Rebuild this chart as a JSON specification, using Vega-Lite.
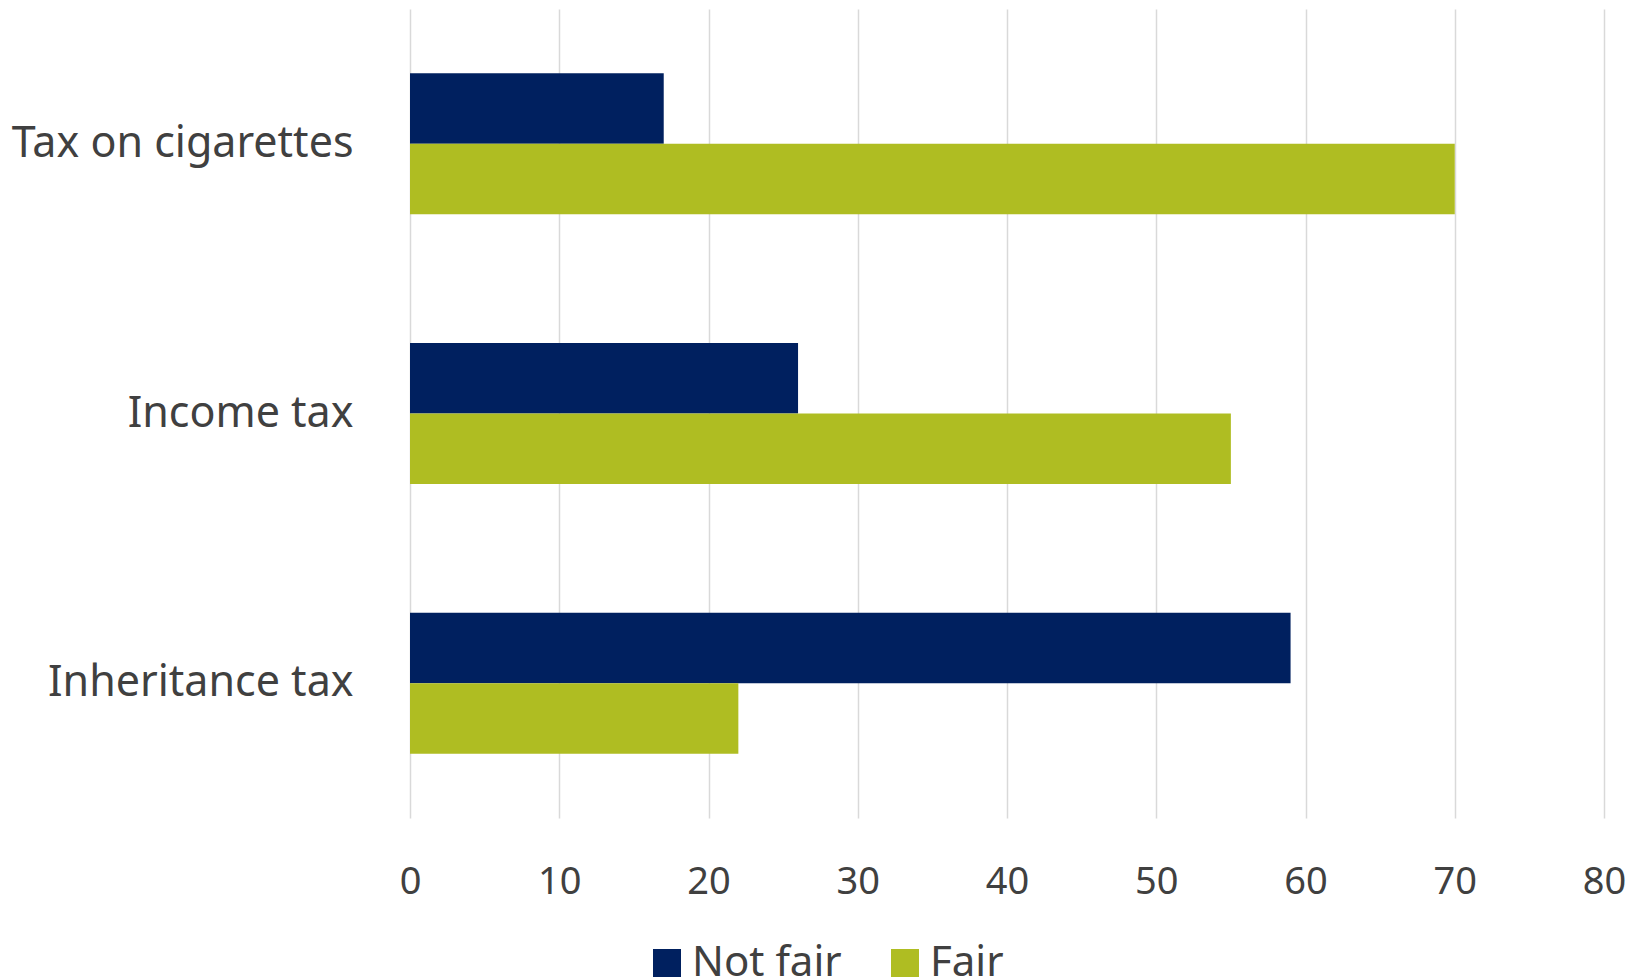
{
  "$schema": "https://vega.github.io/schema/vega-lite/v6.json",
  "width": 1194,
  "height": 809,
  "autosize": {"type": "none"},
  "padding": {"left": 410, "top": 9, "right": 41, "bottom": 162},
  "background": "white",
  "data": {
    "values": [
      {"tax": "Tax on cigarettes", "opinion": "Not fair", "value": 17},
      {"tax": "Tax on cigarettes", "opinion": "Fair", "value": 70},
      {"tax": "Income tax", "opinion": "Not fair", "value": 26},
      {"tax": "Income tax", "opinion": "Fair", "value": 55},
      {"tax": "Inheritance tax", "opinion": "Not fair", "value": 59},
      {"tax": "Inheritance tax", "opinion": "Fair", "value": 22}
    ]
  },
  "mark": {"type": "bar"},
  "encoding": {
    "y": {
      "field": "tax",
      "type": "nominal",
      "sort": ["Tax on cigarettes", "Income tax", "Inheritance tax"],
      "scale": {"paddingInner": 0.477, "paddingOuter": 0.2385},
      "axis": {
        "title": null,
        "domain": false,
        "ticks": false,
        "labelFont": "Noto Sans",
        "labelFontSize": 43,
        "labelColor": "#404040",
        "labelPadding": 57,
        "labelLimit": 0
      }
    },
    "yOffset": {
      "field": "opinion",
      "type": "nominal",
      "sort": ["Not fair", "Fair"],
      "scale": {"paddingInner": 0, "paddingOuter": 0}
    },
    "x": {
      "field": "value",
      "type": "quantitative",
      "scale": {"domain": [0, 80], "nice": false},
      "axis": {
        "title": null,
        "domain": false,
        "ticks": false,
        "values": [0, 10, 20, 30, 40, 50, 60, 70, 80],
        "grid": true,
        "gridColor": "#d9d9d9",
        "gridWidth": 1.5,
        "labelFont": "Noto Sans",
        "labelFontSize": 38,
        "labelColor": "#404040",
        "labelPadding": 45,
        "labelFlush": false
      }
    },
    "color": {
      "field": "opinion",
      "type": "nominal",
      "sort": ["Not fair", "Fair"],
      "scale": {"domain": ["Not fair", "Fair"], "range": ["#00205F", "#AFBD22"]},
      "legend": {
        "title": null,
        "orient": "none",
        "direction": "horizontal",
        "legendX": 236,
        "legendY": 933,
        "symbolType": "square",
        "symbolSize": 784,
        "symbolStrokeWidth": 0,
        "symbolOpacity": 1,
        "labelFont": "Noto Sans",
        "labelFontSize": 42,
        "labelColor": "#404040",
        "labelOffset": 4,
        "columnPadding": 42,
        "labelLimit": 0
      }
    }
  },
  "config": {
    "view": {"stroke": null}
  }
}
